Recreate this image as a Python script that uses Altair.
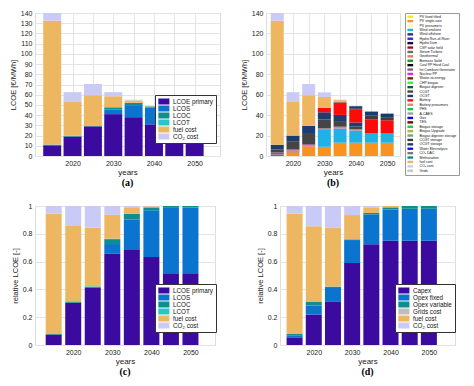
import altair as alt
import pandas as pd

years = [2015, 2020, 2025, 2030, 2035, 2040, 2045, 2050]

# ---- panel (a) / (c): LCOE components [EUR/MWh]
a_names = ["LCOE primary", "LCOS", "LCOC", "LCOT", "fuel cost", "CO₂ cost"]
a_colors = ["#3B0A9E", "#0A74CF", "#0E8E8E", "#22C7C7", "#EDB761", "#CACAF7"]
a_lcoe_primary = [10.5, 19.0, 29.0, 41.0, 38.0, 31.0, 22.7, 21.4]
a_lcos = [0.0, 0.0, 0.0, 4.4, 11.8, 16.5, 20.7, 19.6]
a_lcoc = [0.6, 0.5, 0.5, 2.2, 2.2, 1.0, 0.6, 0.5]
a_lcot = [0.1, 0.2, 0.3, 0.2, 0.1, 0.0, 0.0, 0.0]
a_fuel = [121.3, 33.8, 29.7, 10.7, 2.2, 0.4, 0.0, 0.0]
a_co2 = [7.5, 9.0, 11.0, 4.0, 0.8, 0.1, 0.0, 0.0]

# ---- panel (b): technology breakdown [EUR/MWh]
b_names = ["PV fixed tilted", "PV single-axis", "PV prosumers", "Wind onshore", "Wind offshore",
           "Hydro Run-of-River", "Hydro Dam", "CSP solar field", "Steam Turbine", "Geothermal",
           "Biomass Solid", "Coal PP Hard Coal", "Int Combust Generator", "Nuclear PP",
           "Waste-to-energy", "CHP biogas", "Biogas digester", "CCGT", "OCGT", "Battery",
           "Battery prosumers", "PHS", "A-CAES", "Gas", "TES", "Biogas storage", "Biogas Upgrade",
           "Biogas digester storage", "CCGT storage", "OCGT storage", "Water Electrolysis",
           "CO₂ DAC", "Methanation", "fuel cost", "CO₂ cost", "Grids"]
b_colors = ["#FFE81A", "#F7931E", "#FFF6A8", "#1FB2E6", "#1B3C7C", "#3B28D8", "#0B0B3F", "#A80F14",
            "#6E6E6E", "#F27272", "#1E9A1E", "#0A0A0A", "#8A5A7E", "#F21BF2", "#6A2A0C", "#3CF03C",
            "#0E5A2E", "#454545", "#1D3D6E", "#FF0A0A", "#F47C7C", "#19C24A", "#9E9E9E", "#0A0AF0",
            "#6E0808", "#22C455", "#B5B536", "#6EA284", "#3E3E3E", "#173A72", "#1212E6", "#7A7A7A",
            "#088C8C", "#EDB761", "#CACAF7", "#C6C6C6"]
b_pv_single = [0.0, 3.5, 9.0, 9.0, 13.0, 13.0, 13.0, 13.0]
b_wind_on = [0.0, 0.0, 0.0, 16.5, 14.0, 12.0, 9.5, 9.0]
b_steam = [1.5, 0.5, 0.0, 0.0, 0.0, 0.0, 0.0, 0.0]
b_geo = [0.0, 1.5, 1.5, 1.2, 1.2, 0.8, 0.0, 0.0]
b_ice = [2.0, 1.0, 1.0, 0.6, 0.5, 0.5, 0.0, 0.0]
b_ccgt = [3.0, 8.0, 11.0, 8.5, 5.5, 2.5, 0.0, 0.0]
b_ocgt = [4.5, 5.5, 7.0, 7.0, 6.0, 4.0, 0.0, 0.0]
b_battery = [0.0, 0.0, 0.0, 4.5, 12.0, 12.5, 13.5, 13.0]
b_ccgt_st = [0.0, 0.0, 0.0, 0.0, 0.5, 1.5, 3.5, 3.0]
b_ocgt_st = [0.0, 0.0, 0.0, 0.0, 0.0, 2.0, 4.0, 3.5]
b_fuel = [121.5, 33.5, 30.0, 10.5, 2.0, 0.4, 0.0, 0.0]
b_co2 = [7.5, 9.0, 11.0, 4.5, 0.5, 0.1, 0.0, 0.0]

# ---- panel (d): relative cost structure [-]
d_names = ["Capex", "Opex fixed", "Opex variable", "Grids cost", "fuel cost", "CO₂ cost"]
d_colors = ["#3B0A9E", "#0A74CF", "#0E8E8E", "#BEBEBE", "#EDB761", "#CACAF7"]
d_capex = [0.055, 0.22, 0.31, 0.59, 0.725, 0.75, 0.75, 0.75]
d_opex_fixed = [0.015, 0.065, 0.10, 0.165, 0.215, 0.225, 0.23, 0.23]
d_opex_var = [0.01, 0.025, 0.01, 0.005, 0.01, 0.015, 0.02, 0.02]
d_grids = [0.0, 0.0, 0.0, 0.0, 0.0, 0.0, 0.0, 0.0]
d_fuel = [0.865, 0.545, 0.425, 0.175, 0.04, 0.01, 0.0, 0.0]
d_co2 = [0.055, 0.145, 0.155, 0.065, 0.01, 0.0, 0.0, 0.0]


def long(names, series):
    rows = []
    for i, n in enumerate(names):
        if n in series:
            for yr, v in zip(years, series[n]):
                rows.append({"year": yr, "comp": n, "value": v, "ord": i})
    return pd.DataFrame(rows)


df_a = long(a_names, {"LCOE primary": a_lcoe_primary, "LCOS": a_lcos, "LCOC": a_lcoc,
                      "LCOT": a_lcot, "fuel cost": a_fuel, "CO₂ cost": a_co2})
df_b = long(b_names, {"PV single-axis": b_pv_single, "Wind onshore": b_wind_on,
                      "Steam Turbine": b_steam, "Geothermal": b_geo,
                      "Int Combust Generator": b_ice, "CCGT": b_ccgt, "OCGT": b_ocgt,
                      "Battery": b_battery, "CCGT storage": b_ccgt_st,
                      "OCGT storage": b_ocgt_st, "fuel cost": b_fuel, "CO₂ cost": b_co2})
df_d = long(d_names, {"Capex": d_capex, "Opex fixed": d_opex_fixed, "Opex variable": d_opex_var,
                      "Grids cost": d_grids, "fuel cost": d_fuel, "CO₂ cost": d_co2})

FONT = "Liberation Sans"
small_leg_sym = "M-1,-0.95H2.5V0.95H-1Z"
tiny_leg_sym = "M-1,-0.9H3.3V0.9H-1Z"


def inner_legend(x, y):
    return alt.Legend(orient="none", legendX=x, legendY=y, title=None, fillColor="white",
                      strokeColor="#333333", padding=3, labelFontSize=6.3, labelFont=FONT,
                      symbolType=small_leg_sym, symbolSize=40, symbolStrokeWidth=0,
                      symbolOpacity=1, labelOffset=8, rowPadding=0, labelColor="#111")


def panel(df, names, colors, width, height, xdom, ydom, yvals, ytitle, barsize, legend,
          caption, stack=True, ylabel="format(datum.value, 'd')"):
    x = alt.X("year:Q",
              scale=alt.Scale(domain=xdom, nice=False, zero=False),
              axis=alt.Axis(values=years, format="d",
                            labelExpr="datum.value % 10 == 0 ? datum.label : ''",
                            title="years", grid=True, gridColor="#E4E4E4", ticks=False,
                            domain=False, labelFontSize=7, titleFontSize=8, labelFont=FONT,
                            titleFont=FONT, titleFontWeight="normal", labelPadding=3,
                            titlePadding=2, labelColor="#222", titleColor="#222"))
    y = alt.Y("value:Q", stack=stack,
              scale=alt.Scale(domain=ydom, nice=False, zero=True),
              axis=alt.Axis(values=yvals, labelExpr=ylabel, title=ytitle, grid=True,
                            gridColor="#E4E4E4", ticks=False, domain=False, labelFontSize=7,
                            titleFontSize=7.5, labelFont=FONT, titleFont=FONT,
                            titleFontWeight="normal", labelPadding=3, titlePadding=3,
                            labelColor="#222", titleColor="#222"))
    color = alt.Color("comp:N", scale=alt.Scale(domain=names, range=colors), legend=legend,
                      sort=names)
    return alt.Chart(df).mark_bar(size=barsize, opacity=1).encode(
        x=x, y=y, color=color, order=alt.Order("ord:Q", sort="ascending")
    ).properties(
        width=width, height=height,
        title=alt.TitleParams(caption, orient="bottom", font="Liberation Serif", fontSize=10,
                              fontWeight="bold", offset=2, color="#000")
    )


rel_label = "format(datum.value, '~g')"

pa = panel(df_a, a_names, a_colors, 185, 143, [2012, 2055], [0, 140], list(range(0, 141, 10)),
           "LCOE [€/MWh]", 18, inner_legend(120, 82), "(a)")

pb = panel(df_b, b_names, b_colors, 134, 143, [2013, 2052.5], [0, 140], list(range(0, 141, 20)),
           "LCOE [€/MWh]", 13,
           alt.Legend(orient="right", offset=5, title=None, strokeColor="#999999", padding=2,
                      labelFontSize=3.5, labelFont=FONT, symbolType=tiny_leg_sym, symbolSize=7,
                      symbolStrokeWidth=0, symbolOpacity=1, labelOffset=9, rowPadding=-0.6,
                      labelLimit=80, symbolLimit=60, labelColor="#111"),
           "(b)")

pc = panel(df_a, a_names, a_colors, 180, 139, [2011.5, 2055], [0, 1],
           [0, 0.2, 0.4, 0.6, 0.8, 1], "relative LCOE [-]", 16, inner_legend(120, 78), "(c)",
           stack="normalize", ylabel=rel_label)

pd_ = panel(df_d, d_names, d_colors, 175, 139, [2012.5, 2055.5], [0, 1],
            [0, 0.2, 0.4, 0.6, 0.8, 1], "relative LCOE [-]", 16, inner_legend(115, 78), "(d)",
            ylabel=rel_label)

row1 = alt.hconcat(pa, pb, spacing=18).resolve_scale(color="independent", x="independent",
                                                    y="independent")
row2 = alt.hconcat(pc, pd_, spacing=38).resolve_scale(color="independent", x="independent",
                                                     y="independent")
chart = alt.vconcat(row1, row2, spacing=12).resolve_scale(
    color="independent", x="independent", y="independent"
).properties(padding=0).configure_view(stroke="#8C8C8C", strokeWidth=0.8).configure(
    font=FONT, background="white")

chart.save("out.html", embed_options={"renderer": "svg", "actions": False})
